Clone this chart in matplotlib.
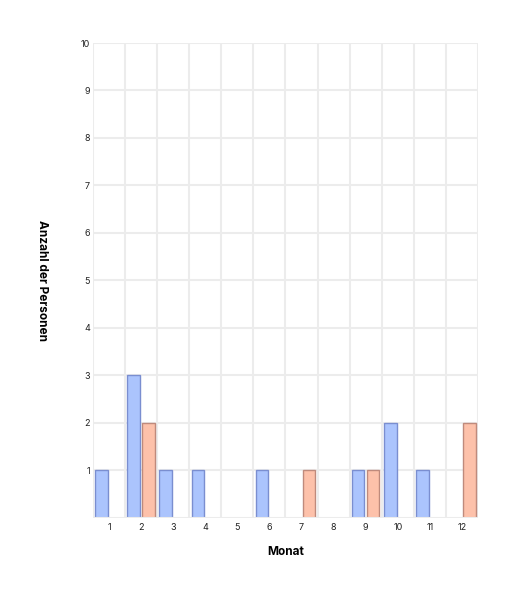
"""Bar chart: Anzahl der Personen per Monat, two groups."""

import matplotlib

matplotlib.use("Agg")
import matplotlib.pyplot as plt
import numpy as np

plt.rcParams["font.family"] = ["Inter", "DejaVu Sans"]

months = [1, 2, 3, 4, 5, 6, 7, 8, 9, 10, 11, 12]
series_blue = [1, 3, 1, 1, 0, 1, 0, 0, 1, 2, 1, 0]
series_salmon = [0, 2, 0, 0, 0, 0, 1, 0, 1, 0, 0, 2]
y_ticks = [1, 2, 3, 4, 5, 6, 7, 8, 9, 10]

BLUE, BLUE_EDGE = "#abc4fd", "#7a8ed0"
SALMON, SALMON_EDGE = "#fdc1aa", "#bf8a7c"
GRID = "#ececec"

fig = plt.figure(figsize=(5.18, 5.94), dpi=100)
ax = fig.add_axes([0.1795, 0.1284, 0.7432, 0.7992])

x = np.array(months, dtype=float)
width = 0.39
offset = 0.234
ax.bar(x - offset, series_blue, width, color=BLUE, edgecolor=BLUE_EDGE, linewidth=1, zorder=3)
ax.bar(x + offset, series_salmon, width, color=SALMON, edgecolor=SALMON_EDGE, linewidth=1, zorder=3)

ax.set_xlim(0.5, 12.5)
ax.set_ylim(0, 10)

# vertical grid sits on the group boundaries
for b in np.arange(0.5, 12.6, 1.0):
    ax.axvline(b, color=GRID, linewidth=1.5, zorder=1)
for t in y_ticks:
    ax.axhline(t, color=GRID, linewidth=1.5, zorder=1)
ax.axhline(0, color=GRID, linewidth=1.5, zorder=4)

ax.set_xticks(x)
ax.set_xticklabels([str(m) for m in months])
ax.set_yticks(y_ticks)
ax.tick_params(axis="both", length=0, labelsize=6.5, colors="#222222", pad=4)
ax.tick_params(axis="y", pad=2)

for s in ax.spines.values():
    s.set_visible(False)

ax.set_xlabel("Monat", fontsize=8.5, fontweight="bold", labelpad=10)
ax.set_ylabel("Anzahl der Personen", fontsize=8.5, fontweight="bold", rotation=270,
              labelpad=0, va="center")
ax.yaxis.set_label_coords(-0.133, 0.5)

fig.savefig("out.png", dpi=100)
